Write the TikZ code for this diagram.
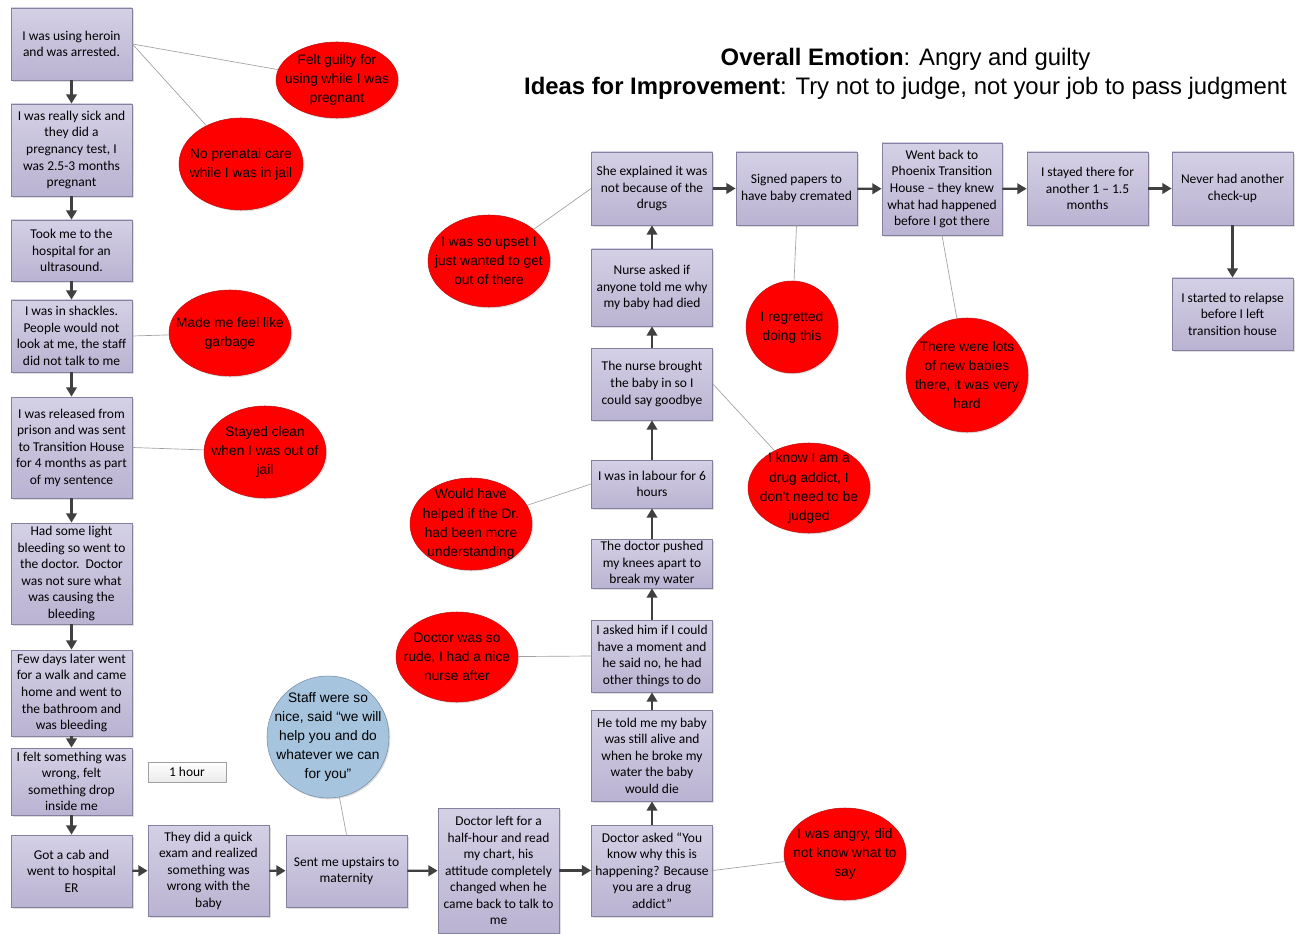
\documentclass[tikz,border=0pt]{standalone}
\usepackage{fontspec}
\usepackage{tikz}
\usetikzlibrary{shapes.geometric, arrows.meta, shadows}
\newfontfamily\boxfont{Carlito}
\newfontfamily\bubfont{Liberation Sans}
\definecolor{boxTop}{RGB}{212,208,229}
\definecolor{boxBot}{RGB}{186,179,210}
\definecolor{boxLine}{RGB}{132,128,160}
\definecolor{badRed}{RGB}{255,0,0}
\definecolor{badLine}{RGB}{190,20,20}
\definecolor{goodBlue}{RGB}{166,196,221}
\definecolor{goodLine}{RGB}{120,140,165}
\definecolor{arrGray}{RGB}{64,64,64}
\definecolor{linkGray}{RGB}{160,160,160}
\tikzset{
  jm/box/.style={rectangle, draw=boxLine, top color=boxTop, bottom color=boxBot,
    minimum width=90.75pt, inner sep=1pt, align=center, line width=0.6pt,
    font=\boxfont\fontsize{10.1}{12.4}\selectfont,
    drop shadow={shadow xshift=1.2pt, shadow yshift=-1.2pt, opacity=0.25}},
  jm/h/.style={minimum height=#1*0.75pt},
  jm/bad/.style={ellipse, draw=badLine, fill=badRed, inner xsep=-12pt,
    inner ysep=-4pt, align=center, line width=0.4pt,
    font=\bubfont\fontsize{10.3}{14.3}\selectfont,
    drop shadow={shadow xshift=1pt, shadow yshift=-1pt, opacity=0.25}},
  jm/good/.style={jm/bad, draw=goodLine, fill=goodBlue},
  jm/wh/.style 2 args={minimum width=#1*1.5pt, minimum height=#2*1.5pt},
  jm/note/.style={rectangle, draw=linkGray, top color=white, bottom color=black!8,
    minimum width=58.5pt, minimum height=15pt, inner sep=1pt,
    font=\boxfont\fontsize{10.1}{12.4}\selectfont,
    drop shadow={shadow xshift=1pt, shadow yshift=-1pt, opacity=0.2}},
  jm/arr/.style={-{Triangle[length=7pt,width=8pt]}, line width=1.6pt, draw=arrGray},
  jm/link/.style={draw=linkGray, line width=0.5pt}
}

\begin{document}
\begin{tikzpicture}[x=0.75pt, y=-0.75pt]
  \useasboundingbox (0,0) rectangle (1299,934);

  % title
  \node[font=\bubfont\fontsize{17.9}{21.75}\selectfont, align=center] (title) at (905.5,74)
    {\textbf{Overall Emotion}: Angry and guilty\\
     \textbf{Ideas for Improvement}: Try not to judge, not your job to pass judgment};

  % left column
  \node[jm/box, jm/h=72]  (arrest)   at (71.5,44)    {I was using heroin\\and was arrested.};
  \node[jm/box, jm/h=92]  (sick)     at (71.5,150)   {I was really sick and\\they did a\\pregnancy test, I\\was 2.5-3 months\\pregnant};
  \node[jm/box, jm/h=61]  (ultra)    at (71.5,250.5) {Took me to the\\hospital for an\\ultrasound.};
  \node[jm/box, jm/h=72]  (shackles) at (71.5,336)   {I was in shackles.\\People would not\\look at me, the staff\\did not talk to me};
  \node[jm/box, jm/h=101] (released) at (71.5,447.5) {I was released from\\prison and was sent\\to Transition House\\for 4 months as part\\of my sentence};
  \node[jm/box, jm/h=101] (lightbl)  at (71.5,573.5) {Had some light\\bleeding so went to\\the doctor.\ \ Doctor\\was not sure what\\was causing the\\bleeding};
  \node[jm/box, jm/h=86]  (walk)     at (71.5,693)   {Few days later went\\for a walk and came\\home and went to\\the bathroom and\\was bleeding};
  \node[jm/box, jm/h=67]  (wrong)    at (71.5,781.5) {I felt something was\\wrong, felt\\something drop\\inside me};
  \node[jm/box, jm/h=72]  (cab)      at (71.5,871)   {Got a cab and\\went to hospital\\ER};

  % bottom row
  \node[jm/box, jm/h=91]  (exam)     at (208.5,870.5) {They did a quick\\exam and realized\\something was\\wrong with the\\baby};
  \node[jm/box, jm/h=72]  (upstairs) at (346.5,871)   {Sent me upstairs to\\maternity};
  \node[jm/box, jm/h=125] (chart)    at (498.5,870.5) {Doctor left for a\\half-hour and read\\my chart, his\\attitude completely\\changed when he\\came back to talk to\\me};
  \node[jm/box, jm/h=91]  (asked)    at (652,870.5)   {Doctor asked “You\\know why this is\\happening? Because\\you are a drug\\addict”};

  % middle column
  \node[jm/box, jm/h=91] (alive)    at (652,755.5) {He told me my baby\\was still alive and\\when he broke my\\water the baby\\would die};
  \node[jm/box, jm/h=72] (moment)   at (652,656)   {I asked him if I could\\have a moment and\\he said no, he had\\other things to do};
  \node[jm/box, jm/h=49] (knees)    at (652,563.5) {The doctor pushed\\my knees apart to\\break my water};
  \node[jm/box, jm/h=48] (labour)   at (652,484)   {I was in labour for 6\\hours};
  \node[jm/box, jm/h=72] (goodbye)  at (652,384)   {The nurse brought\\the baby in so I\\could say goodbye};
  \node[jm/box, jm/h=77] (whydied)  at (652,287.5) {Nurse asked if\\anyone told me why\\my baby had died};
  \node[jm/box, jm/h=73] (explain)  at (652,188.5) {She explained it was\\not because of the\\drugs};

  % top row
  \node[jm/box, jm/h=73] (cremated) at (796.5,188.5)  {Signed papers to\\have baby cremated};
  \node[jm/box, jm/h=92, minimum width=90pt] (phoenix) at (942,189) {Went back to\\Phoenix Transition\\House – they knew\\what had happened\\before I got there};
  \node[jm/box, jm/h=73] (stayed)   at (1087.5,188.5) {I stayed there for\\another 1 – 1.5\\months};
  \node[jm/box, jm/h=73] (checkup)  at (1232.5,188.5) {Never had another\\check-up};
  \node[jm/box, jm/h=72] (relapse)  at (1232.5,314)   {I started to relapse\\before I left\\transition house};

  \node[jm/note] (hour) at (187,772) {1 hour};

  % feelings
  \node[jm/bad, jm/wh={61}{38}] (guilty)   at (337,80)  {Felt guilty for\\using while I was\\pregnant};
  \node[jm/bad, jm/wh={62}{46}] (prenatal) at (241,164) {No prenatal care\\while I was in jail};
  \node[jm/bad, jm/wh={61}{43}] (garbage)  at (230,333) {Made me feel like\\garbage};
  \node[jm/bad, jm/wh={61}{46}] (clean)    at (265,452) {Stayed clean\\when I was out of\\jail};
  \node[jm/bad, jm/wh={61}{46}] (upset)    at (489,261) {I was so upset I\\just wanted to get\\out of there};
  \node[jm/bad, jm/wh={46}{46}] (regret)   at (792,327) {I regretted\\doing this};
  \node[jm/bad, jm/wh={61}{57}] (babies)   at (967,375) {There were lots\\of new babies\\there, it was very\\hard};
  \node[jm/bad, jm/wh={61}{45}] (judged)   at (809,488) {I know I am a\\drug addict, I\\don't need to be\\judged};
  \node[jm/bad, jm/wh={61}{46}] (underst)  at (471,524) {Would have\\helped if the Dr.\\had been more\\understanding};
  \node[jm/bad, jm/wh={61}{45}] (rude)     at (457,657) {Doctor was so\\rude, I had a nice\\nurse after};
  \node[jm/bad, jm/wh={61}{46}] (angry)    at (845,854) {I was angry, did\\not know what to\\say};
  \node[jm/good, jm/wh={61}{61}] (nice)    at (328,737) {Staff were so\\nice, said “we will\\help you and do\\whatever we can\\for you”};

  % flow
  \draw[jm/arr] (arrest) -- (sick);
  \draw[jm/arr] (sick) -- (ultra);
  \draw[jm/arr] (ultra) -- (shackles);
  \draw[jm/arr] (shackles) -- (released);
  \draw[jm/arr] (released) -- (lightbl);
  \draw[jm/arr] (lightbl) -- (walk);
  \draw[jm/arr] (walk) -- (wrong);
  \draw[jm/arr] (wrong) -- (cab);
  \draw[jm/arr] (cab) -- (exam);
  \draw[jm/arr] (exam) -- (upstairs);
  \draw[jm/arr] (upstairs) -- (chart);
  \draw[jm/arr] (chart) -- (asked);
  \draw[jm/arr] (asked) -- (alive);
  \draw[jm/arr] (alive) -- (moment);
  \draw[jm/arr] (moment) -- (knees);
  \draw[jm/arr] (knees) -- (labour);
  \draw[jm/arr] (labour) -- (goodbye);
  \draw[jm/arr] (goodbye) -- (whydied);
  \draw[jm/arr] (whydied) -- (explain);
  \draw[jm/arr] (explain) -- (cremated);
  \draw[jm/arr] (cremated) -- (phoenix);
  \draw[jm/arr] (phoenix) -- (stayed);
  \draw[jm/arr] (stayed) -- (checkup);
  \draw[jm/arr] (checkup) -- (relapse);

  % links to feelings
  \draw[jm/link] (arrest.east) -- (guilty);
  \draw[jm/link] (arrest.east) -- (prenatal);
  \draw[jm/link] (shackles.east) -- (garbage);
  \draw[jm/link] (released.east) -- (clean);
  \draw[jm/link] (explain.west) -- (upset);
  \draw[jm/link] (cremated.south) -- (regret);
  \draw[jm/link] (phoenix.south) -- (babies);
  \draw[jm/link] (goodbye.east) -- (judged);
  \draw[jm/link] (labour.west) -- (underst);
  \draw[jm/link] (moment.west) -- (rude);
  \draw[jm/link] (asked.east) -- (angry);
  \draw[jm/link] (upstairs.north) -- (nice);
\end{tikzpicture}
\end{document}
